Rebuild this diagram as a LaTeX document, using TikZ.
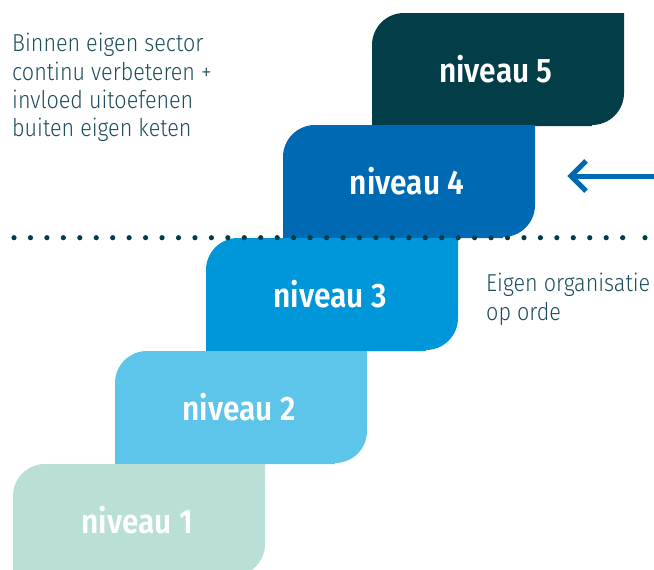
\documentclass[tikz,border=0pt]{standalone}
\usepackage{fontspec}
\setmainfont[FakeStretch=0.86]{Fira Sans}
\newfontfamily\labelfont[FakeStretch=0.88]{Fira Sans SemiBold}
\newfontfamily\sidefont[FakeStretch=0.88]{Fira Sans Light}
\usetikzlibrary{calc}
\definecolor{cfive}{HTML}{023D48}
\definecolor{cfour}{HTML}{0069B4}
\definecolor{cthree}{HTML}{0096DA}
\definecolor{ctwo}{HTML}{5EC5EA}
\definecolor{cone}{HTML}{B9DFD6}
\definecolor{sidetext}{HTML}{1E4E5B}
\definecolor{dotcol}{HTML}{023D48}
\tikzset{
  steplabel/.style={text=white, font=\labelfont\fontsize{34}{40}\selectfont, inner sep=0pt},
  sideline/.style={text=sidetext, font=\sidefont\fontsize{24.5}{29}\selectfont, anchor=base west, inner sep=0pt},
  arrowline/.style={draw=cfour, line width=5pt, miter limit=10},
}
\newcommand\stepshape[5]{%
  \fill[#4] (#2,#3+113) -- (#2,#3+32) .. controls (#2,#3+14.3) and (#2+14.3,#3) .. (#2+32,#3)
    -- (#2+252,#3) -- (#2+252,#3+80) .. controls (#2+252,#3+97.7) and (#2+237.7,#3+112) .. (#2+220,#3+112)
    -- (#2+220,#3+113) -- cycle;
  \node[steplabel] (#1) at (#2+124,#3+56) {#5};
}
\begin{document}
\begin{tikzpicture}[x=1pt,y=-1pt]
\useasboundingbox (0,0) rectangle (654,570);
\clip (0,0) rectangle (654,570);
\stepshape{nfive}{372}{13}{cfive}{niveau 5}
\stepshape{nfour}{283}{125}{cfour}{niveau 4}
\stepshape{nthree}{206}{238}{cthree}{niveau 3}
\stepshape{ntwo}{115}{351}{ctwo}{niveau 2}
\stepshape{none}{13}{464}{cone}{niveau 1}
% dotted line
\foreach \i in {0,...,37} \fill[dotcol] (14+16.45*\i,237.7) circle[radius=2.6pt];
\fill[dotcol] (645,237.7) circle[radius=2.6pt];
% arrow
\coordinate (arrowtail) at (654,176);
\coordinate (arrowtip) at (571,176);
\draw[arrowline] (arrowtail) -- (arrowtip);
\draw[arrowline] ($(arrowtip)+(15,-15)$) -- (arrowtip) -- ($(arrowtip)+(15,15)$);
% side texts
\node[sideline] (la) at (12,51.7) {Binnen eigen sector};
\node[sideline] (lb) at (12,80) {continu verbeteren +};
\node[sideline] (lc) at (12,108.3) {invloed uitoefenen};
\node[sideline] (ld) at (12,136.6) {buiten eigen keten};
\node[sideline] (ra) at (486,291.7) {Eigen organisatie};
\node[sideline] (rb) at (486,320) {op orde};
\end{tikzpicture}
\end{document}
